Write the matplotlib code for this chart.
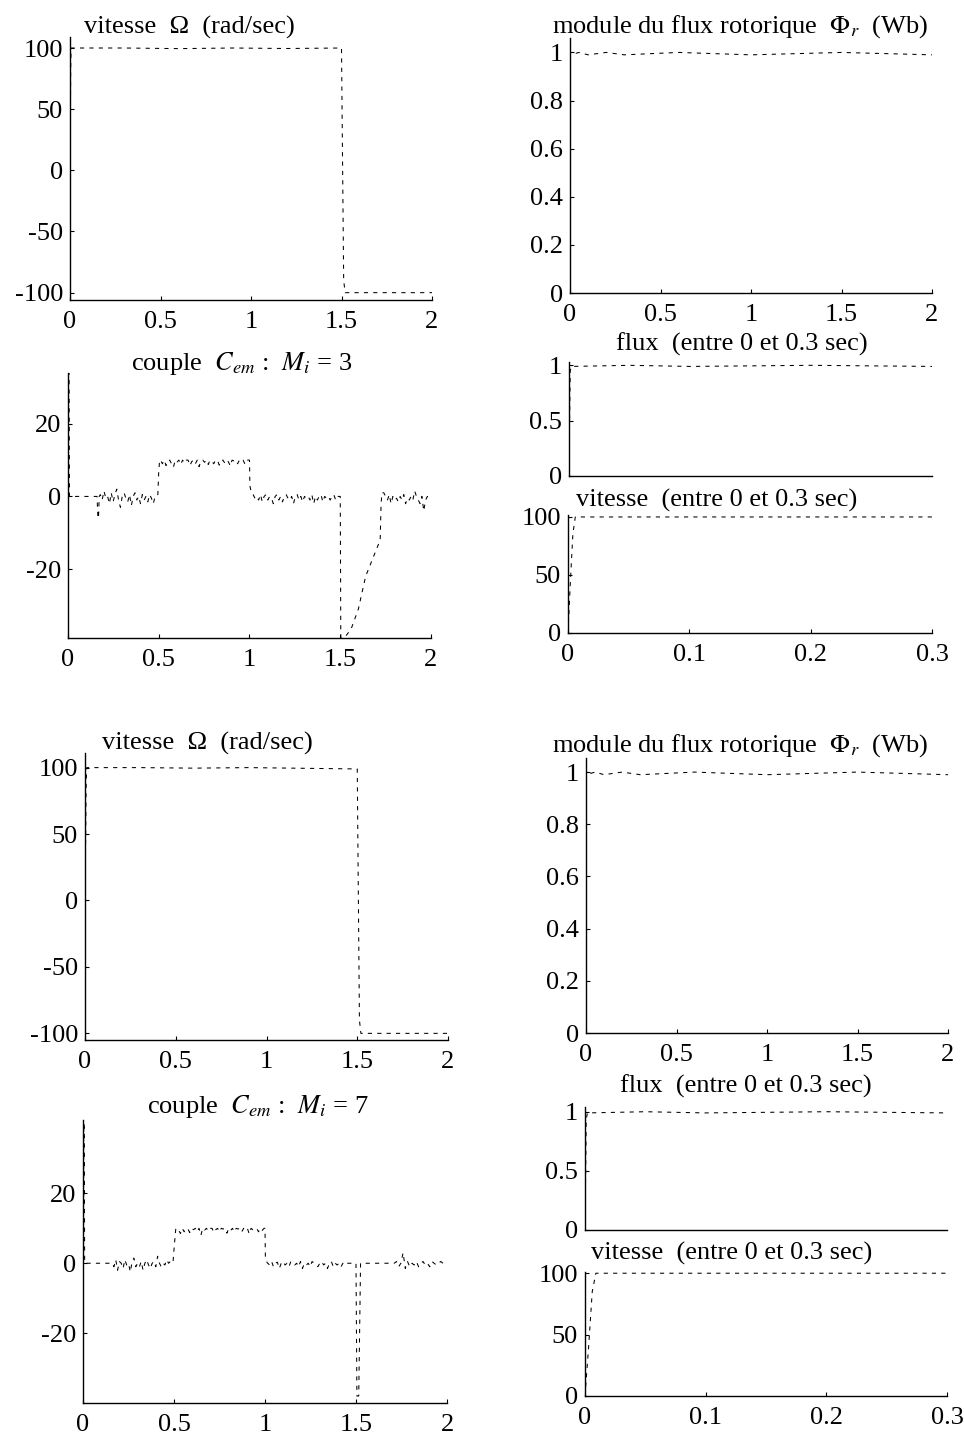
import numpy as np
import matplotlib
matplotlib.use("Agg")
import matplotlib.pyplot as plt
from matplotlib.ticker import FixedLocator, FuncFormatter

plt.rcParams["font.family"] = ["Liberation Serif", "DejaVu Serif"]
plt.rcParams["mathtext.fontset"] = "stix"
plt.rcParams["axes.unicode_minus"] = False

# ---------------------------------------------------------------------------
# Simulated DTC drive responses, two integrator settings (M_i = 3 and M_i = 7)
# Each series is built from segments: explicit (t, value) pairs, and sampled
# stretches given as (t_start, t_end, values) on a regular time grid.
# ---------------------------------------------------------------------------

# speed (rad/s), M_i = 3
speed3_t = [0.0, 0.002, 0.004, 0.006, 0.3, 0.6, 0.9, 1.2, 1.5, 1.505, 1.512, 1.52, 2.0]
speed3_v = [0.0, 45.0, 85.0, 100.0, 100.0, 99.5, 100.0, 99.6, 100.0, 20.0, -90.0, -100.0, -100.0]

# speed (rad/s), M_i = 7
speed7_t = [0.0, 0.003, 0.006, 0.009, 0.3, 0.6, 0.9, 1.2, 1.5, 1.505, 1.512, 1.52, 2.0]
speed7_v = [0.0, 40.0, 85.0, 100.0, 100.0, 99.6, 100.0, 99.5, 99.0, 20.0, -90.0, -100.0, -100.0]

# rotor flux magnitude (Wb)
flux3_t = [0.0, 0.0005, 0.001, 0.002, 0.05, 0.1, 0.2, 0.3, 0.6, 1.0, 1.5, 2.0]
flux3_v = [0.0, 0.52, 0.95, 0.99, 1.0, 0.99, 1.0, 0.99, 1.0, 0.99, 1.0, 0.99]
flux7_t = [0.0, 0.0005, 0.001, 0.002, 0.05, 0.1, 0.2, 0.3, 0.6, 1.0, 1.5, 2.0]
flux7_v = [0.0, 0.45, 0.93, 0.99, 1.0, 0.99, 1.0, 0.99, 1.0, 0.99, 1.0, 0.99]

# electromagnetic torque (N.m), M_i = 3
torque3_start_t = [0.0, 0.002, 0.006, 0.008, 0.16, 0.165, 0.168, 0.172]
torque3_start_v = [0.0, 34.0, 34.0, 0.0, 0.0, -6.0, -6.0, 0.0]
torque3_idle1 = [0.5, -1, 1.5, -0.5, 0, -2, 1, -1.5, 0.5, 2, -1, -3, 0, 1, -0.5, -1.5,
                 0.5, -2.5, 0, 1, -1, 0, -2, 0.5, -1, 0, -1.5, 0.5, -0.5, -2, 0, 0.5]
torque3_step_t = [0.495, 0.50, 0.505]
torque3_step_v = [0.5, 7.0, 10.0]
torque3_load = [10, 9, 10, 8.5, 9.8, 10, 9, 8, 10, 9.5, 10, 8.8, 10, 9.2, 10, 10, 8.5,
                9.6, 10, 9, 10, 8.2, 9.8, 10, 9.4, 10, 8.8, 10, 9.6, 9, 10, 10, 8.6, 9.8,
                10, 9.2, 10, 9.5, 8.4, 10, 9.8, 10, 9, 10, 9.6, 10, 8.9, 10, 10]
torque3_unload_t = [1.0, 1.002, 1.01]
torque3_unload_v = [10.0, 3.0, 1.0]
torque3_idle2 = [0.5, -0.5, 0, -1, 0.5, -1.5, 0, 0.5, -1, 0, -0.5, -2, 0, 0.5, -1, 0,
                 -1.5, 0, 0.5, -0.5, -1, 0, -2, 0, 0.5, -1, 0, -1.5, 0, -0.5, 0, -1,
                 0.5, -2, 0, -1, 0, 0.5, -1.5, 0, -0.5, 0, -1, 0, 0.5, -1, 0, 0]
torque3_rev_t = [1.50, 1.503, 1.53, 1.56, 1.60, 1.64, 1.68, 1.72, 1.725, 1.73]
torque3_rev_v = [0.0, -39.0, -38.5, -36.5, -31.0, -22.0, -17.0, -12.0, -2.0, 1.0]
torque3_idle3 = [1, 0, -1, 0.5, -2, 0, -1, -0.5, -1.5, 0, -1, 0.5, -2, -0.5, -1, 0, -1,
                 1.5, 0, -1, -2, 0, -4, -1, 0, -1]

# electromagnetic torque (N.m), M_i = 7
torque7_start_t = [0.0, 0.002, 0.004, 0.007, 0.009, 0.15]
torque7_start_v = [0.0, -16.0, 40.0, 40.0, 0.0, 0.0]
torque7_idle1 = [0, -1, 1, -2, 0.5, 0, -1.5, 1, -0.5, 0, -2.5, 0.5, 1.5, -1, 0, -1,
                 0.5, -2, 0, 1, -0.5, -1.5, 0, 0.5, -1, 2, 0, -1, 0, -0.5, 1, 0, 0.5, 0]
torque7_step_t = [0.495, 0.50, 0.51]
torque7_step_v = [0.5, 4.0, 10.0]
torque7_load = [10, 9.5, 8.5, 10, 9, 10, 9.8, 8.8, 10, 9.6, 10, 9, 10, 8, 10, 9.5, 10,
                9.2, 10, 10, 8.8, 9.6, 10, 9, 10, 9.8, 10, 8.6, 10, 9.4, 10, 9, 10, 9.8,
                10, 9, 10, 9.5, 10, 8.4, 10, 9.6, 10, 10, 9, 10, 9.4, 10]
torque7_unload_t = [1.0, 1.002, 1.008]
torque7_unload_v = [10.0, 2.0, 0.5]
torque7_idle2 = [0, -0.5, 0.5, -1, 0, 0.3, -1.5, 0, 0.5, -0.5, 0, -1, 0.5, 0, -0.5, 0,
                 -1, 0.5, -1.5, 0, -0.5, 0, -1, 0.5, 0, -0.5, -1, 0, 0.5, -0.5, 0, -1.5,
                 0, 0.5, -1, 0, -0.5, 0, -1, 0, 0.5, 0, 0]
torque7_rev_t = [1.47, 1.50, 1.505, 1.515, 1.525, 1.60, 1.70]
torque7_rev_v = [0.0, 0.0, -38.0, -38.0, 0.0, 0.0, 0.0]
torque7_idle3 = [0, 0.5, -1, 0, 3, -1.5, 0.5, -1, 0, -0.5, 0.5, -1, 0, 0.5, -0.5, 0,
                 -1, 0.5, 0, -0.5, 0, 0.5, 0, 0]

# axis settings
x_long = [0, 0.5, 1, 1.5, 2]
x_short = [0, 0.1, 0.2, 0.3]
y_speed = [-100, -50, 0, 50, 100]
y_torque = [-20, 0, 20]
y_flux = [0, 0.2, 0.4, 0.6, 0.8, 1]
y_flux_short = [0, 0.5, 1]
y_speed_short = [0, 50, 100]

title_speed = "vitesse  \u03a9  (rad/sec)"
title_flux = "module du flux rotorique  $\\Phi_r$  (Wb)"
title_flux_short = "flux  (entre 0 et 0.3 sec)"
title_speed_short = "vitesse  (entre 0 et 0.3 sec)"
title_torque3 = "couple  $C_{em}$ :  $M_i$ = 3"
title_torque7 = "couple  $C_{em}$ :  $M_i$ = 7"


def build(*segments):
    """Concatenate (t, v) pairs and (t0, t1, values) sampled stretches."""
    ts, vs = [], []
    for seg in segments:
        if len(seg) == 2:
            ts.extend(seg[0])
            vs.extend(seg[1])
        else:
            t0, t1, vals = seg
            ts.extend(np.linspace(t0, t1, len(vals)))
            vs.extend(vals)
    return np.array(ts), np.array(vs)


torque3 = build((torque3_start_t, torque3_start_v), (0.178, 0.49, torque3_idle1),
                (torque3_step_t, torque3_step_v), (0.51, 0.995, torque3_load),
                (torque3_unload_t, torque3_unload_v), (1.02, 1.495, torque3_idle2),
                (torque3_rev_t, torque3_rev_v), (1.74, 1.99, torque3_idle3))
torque7 = build((torque7_start_t, torque7_start_v), (0.16, 0.49, torque7_idle1),
                (torque7_step_t, torque7_step_v), (0.515, 0.995, torque7_load),
                (torque7_unload_t, torque7_unload_v), (1.015, 1.46, torque7_idle2),
                (torque7_rev_t, torque7_rev_v), (1.71, 1.99, torque7_idle3))
speed3 = (np.array(speed3_t), np.array(speed3_v))
speed7 = (np.array(speed7_t), np.array(speed7_v))
flux3 = (np.array(flux3_t), np.array(flux3_v))
flux7 = (np.array(flux7_t), np.array(flux7_v))

# ---------------------------------------------------------------------------
W, H = 964, 1438
fig = plt.figure(figsize=(W / 100, H / 100), dpi=100)
FS = 19
TRACE = dict(color="black", lw=0.75, ls=(0, (4, 5)))


def box(l, t, r, b):
    return [l / W, 1 - b / H, (r - l) / W, (b - t) / H]


def fmt(v, _pos):
    return "%g" % v


def panel(rect, series, xlim, ylim, xticks, yticks):
    ax = fig.add_axes(box(*rect))
    t, v = series
    ax.plot(t, v, **TRACE)
    ax.set_xlim(*xlim)
    ax.set_ylim(*ylim)
    ax.xaxis.set_major_locator(FixedLocator(xticks))
    ax.yaxis.set_major_locator(FixedLocator(yticks))
    ax.xaxis.set_major_formatter(FuncFormatter(fmt))
    ax.yaxis.set_major_formatter(FuncFormatter(fmt))
    for s in ("top", "right"):
        ax.spines[s].set_visible(False)
    for s in ("left", "bottom"):
        ax.spines[s].set_linewidth(1.0)
    ax.tick_params(direction="in", length=3, width=0.8, labelsize=FS)
    ax.tick_params(axis="x", pad=8)
    ax.tick_params(axis="y", pad=5)
    return ax


def title(x, y, s):
    fig.text(x / W, 1 - y / H, s, ha="center", va="baseline", fontsize=FS)


# upper block: M_i = 3
panel((70, 37, 432, 300), speed3, (0, 2), (-106, 109), x_long, y_speed)
panel((68, 373, 431, 638), torque3, (0, 2), (-39, 34), x_long, y_torque)
panel((570, 38, 932, 293), flux3, (0, 2), (0, 1.06), x_long, y_flux)
panel((569, 362, 932, 476), flux3, (0, 0.3), (0, 1.03), [], y_flux_short)
panel((568, 515, 932, 633), speed3, (0, 0.3), (0, 101.7), x_short, y_speed_short)

# lower block: M_i = 7
panel((85, 753, 448, 1040), speed7, (0, 2), (-105, 111), x_long, y_speed)
panel((83, 1120, 447, 1403), torque7, (0, 2), (-40, 41), x_long, y_torque)
panel((586, 758, 948, 1033), flux7, (0, 2), (0, 1.054), x_long, y_flux)
panel((585, 1107, 947, 1230), flux7, (0, 0.3), (0, 1.04), [], y_flux_short)
panel((585, 1272, 947, 1396), speed7, (0, 0.3), (0, 101), x_short, y_speed_short)

title(189, 34, title_speed)
title(242, 370, title_torque3)
title(740, 33, title_flux)
title(742, 351, title_flux_short)
title(717, 507, title_speed_short)
title(207, 750, title_speed)
title(258, 1113, title_torque7)
title(740, 752, title_flux)
title(746, 1093, title_flux_short)
title(732, 1260, title_speed_short)

fig.savefig("out.png", dpi=100, facecolor="white")
